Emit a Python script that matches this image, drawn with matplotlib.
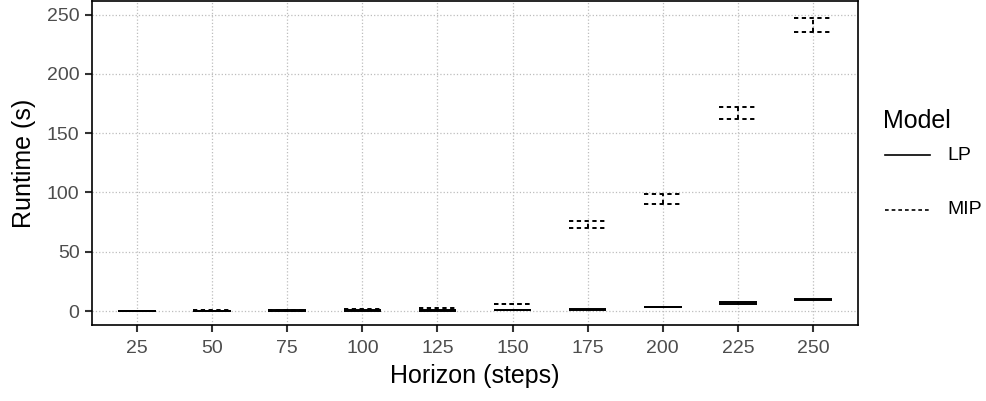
import numpy as np
import matplotlib
matplotlib.use('Agg')
import matplotlib.pyplot as plt
from matplotlib.lines import Line2D

plt.rcParams['font.family'] = ['Liberation Sans', 'DejaVu Sans']

horizons = ['25', '50', '75', '100', '125', '150', '175', '200', '225', '250']
lp_low = [0.2, 0.2, 0.3, 0.3, 0.4, 0.5, 1.0, 3.2, 6.0, 9.2]
lp_high = [0.4, 0.4, 0.5, 0.6, 0.7, 0.8, 1.5, 3.8, 8.0, 10.3]
mip_low = [0.2, 0.3, 0.4, 0.5, 0.6, 5.5, 70.1, 90.1, 161.9, 235.0]
mip_high = [0.4, 0.5, 0.7, 1.4, 2.9, 6.3, 76.3, 98.5, 172.0, 247.5]

W, H = 986, 401
fig = plt.figure(figsize=(W / 100, H / 100), dpi=100)
ax = fig.add_axes([92 / W, (H - 325) / H, 766 / W, 324 / H])

x = np.arange(1, len(horizons) + 1)
half = 0.25
lw = 1.4
dash = (0, (2.2, 1.8))

# LP error bars (solid)
ax.hlines(lp_low, x - half, x + half, colors='black', linewidth=lw, zorder=3)
ax.hlines(lp_high, x - half, x + half, colors='black', linewidth=lw, zorder=3)
ax.vlines(x, lp_low, lp_high, colors='black', linewidth=lw, zorder=3)

# MIP error bars (dashed)
ax.hlines(mip_low, x - half, x + half, colors='black', linewidth=lw,
          linestyles=dash, zorder=4)
ax.hlines(mip_high, x - half, x + half, colors='black', linewidth=lw,
          linestyles=dash, zorder=4)
ax.vlines(x, mip_low, mip_high, colors='black', linewidth=lw,
          linestyles=dash, zorder=4)

ax.set_xlim(0.4, 10.6)
ax.set_ylim(-11.8, 261.5)
ax.set_xticks(x)
ax.set_xticklabels(horizons)
ax.set_yticks([0, 50, 100, 150, 200, 250])

ax.grid(True, color='#BDBDBD', linestyle=':', linewidth=0.9)
ax.set_axisbelow(True)
for s in ax.spines.values():
    s.set_color('black')
    s.set_linewidth(1.2)

ax.tick_params(axis='both', colors='#333333', labelcolor='#4D4D4D',
               labelsize=14, length=5, width=1.5, pad=4)
ax.tick_params(axis='x', pad=6)
ax.set_xlabel('Horizon (steps)', fontsize=18, color='black', labelpad=5)
ax.set_ylabel('Runtime (s)', fontsize=18, color='black', labelpad=8)

# legend, drawn in figure pixels
def fy(py):
    return (H - py) / H

fig.text(883 / W, fy(121), 'Model', fontsize=18, ha='left', va='center')
fig.add_artist(Line2D([885 / W, 930 / W], [fy(155), fy(155)], color='black',
                      linewidth=1.2, transform=fig.transFigure))
fig.add_artist(Line2D([885 / W, 930 / W], [fy(210), fy(210)], color='black',
                      linewidth=1.2, linestyle=dash, transform=fig.transFigure))
fig.text(947 / W, fy(155), 'LP', fontsize=14, ha='left', va='center')
fig.text(947 / W, fy(210), 'MIP', fontsize=14, ha='left', va='center')

fig.savefig('out.png', dpi=100)
